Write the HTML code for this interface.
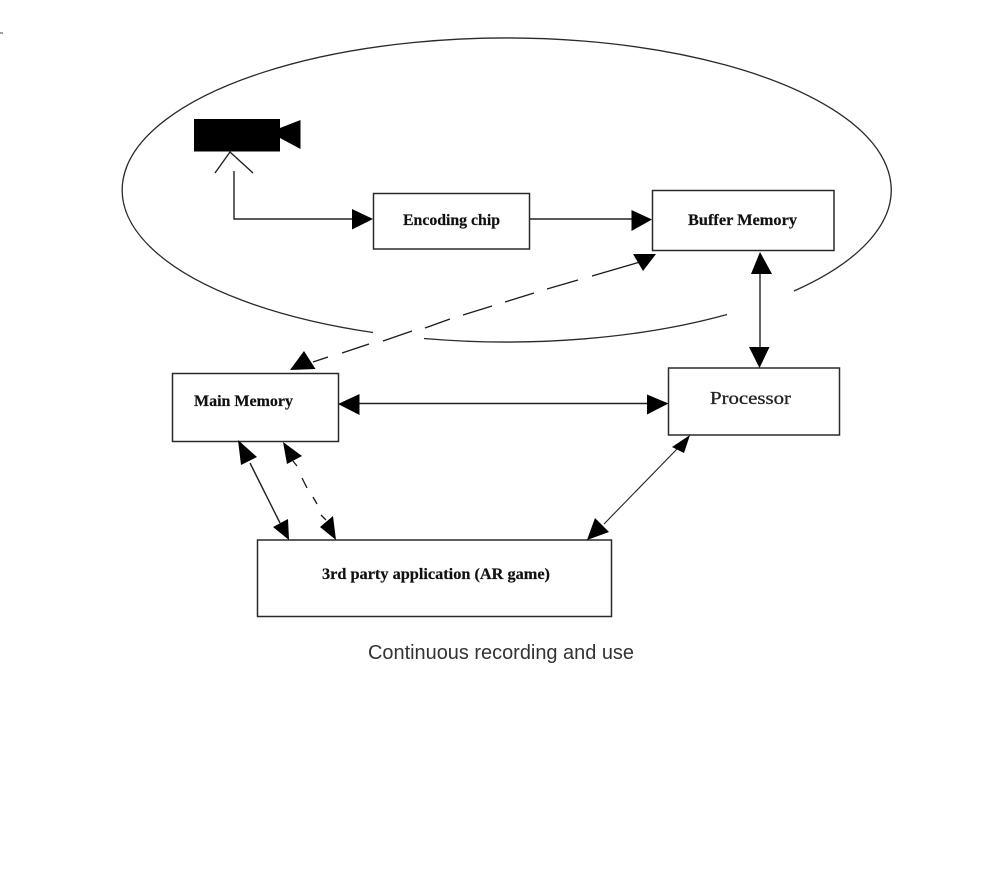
<!DOCTYPE html>
<html>
<head>
<meta charset="utf-8">
<style>
html,body{margin:0;padding:0;background:#fff;width:1000px;height:889px;overflow:hidden}
svg{display:block}
.l{fill:none;stroke:#222;stroke-width:1.4}
.e{fill:none;stroke:#2a2a2a;stroke-width:1.3}
.b{fill:#fff;stroke:#2a2a2a;stroke-width:1.5}
.d{stroke:#1a1a1a;stroke-width:1.3;fill:none}
.t{font-family:"Liberation Serif",serif;font-weight:bold;font-size:15.5px;fill:#111;stroke:#111;stroke-width:.2}
</style>
</head>
<body>
<svg width="1000" height="889" viewBox="0 0 1000 889" xmlns="http://www.w3.org/2000/svg">
<rect width="1000" height="889" fill="#fff"/>
<line x1="0" y1="33" x2="3" y2="33" stroke="#444" stroke-width="1"/>

<path class="e" d="M794 291A384.5 152 0 1 0 373 332.5"/>
<path class="e" d="M424 338.5A384.5 152 0 0 0 727 314.5"/>

<rect x="194" y="119" width="86" height="32.5" fill="#000"/>
<polygon points="280,128 300.5,120 300.5,149 280,138" fill="#000"/>
<path class="l" d="M215 173L230 152L253 173"/>

<path class="l" d="M234 171V219H356"/>
<path class="l" d="M529 219H634"/>
<path class="l" d="M760 270V350"/>
<path class="l" d="M355 403.5H650"/>
<path class="l" d="M250 463L280 523"/>
<path class="l" d="M604 524L678 448" style="stroke-width:1.1"/>

<g class="d">
<line x1="313" y1="362" x2="328" y2="357"/>
<line x1="342" y1="353" x2="369" y2="344"/>
<line x1="383" y1="341" x2="412" y2="331"/>
<line x1="425" y1="328" x2="450" y2="319"/>
<line x1="463" y1="315" x2="492" y2="306"/>
<line x1="505" y1="302" x2="534" y2="293"/>
<line x1="547" y1="289" x2="578" y2="280"/>
<line x1="592" y1="276" x2="640" y2="262"/>
<line x1="293" y1="461" x2="297" y2="466"/>
<line x1="302" y1="478" x2="307" y2="488"/>
<line x1="313" y1="497" x2="317" y2="504"/>
<line x1="321" y1="515" x2="326" y2="520"/>
</g>

<rect class="b" x="373.5" y="193.5" width="156" height="55.5"/>
<rect class="b" x="652.5" y="190.5" width="181.5" height="60"/>
<rect class="b" x="668.5" y="368" width="171" height="67"/>
<rect class="b" x="172.5" y="373.5" width="166" height="68"/>
<rect class="b" x="257.5" y="540" width="354" height="76.5"/>

<g fill="#000">
<polygon points="352,209 352,229.5 373,219"/>
<polygon points="631.5,210 631.5,231 652,219.5"/>
<polygon points="633,254 656,254 643,271"/>
<polygon points="304,351 290,370 315.5,369"/>
<polygon points="760,252 751,274 772,274"/>
<polygon points="749,347 769.5,347 759.5,368"/>
<polygon points="338,404 359.5,394 359.5,415"/>
<polygon points="647,394.5 647,414.5 668.5,403.5"/>
<polygon points="238,440 241,465 257,457"/>
<polygon points="273,527 288,519 289,540"/>
<polygon points="283,442 287,464 302,456"/>
<polygon points="320,527 333,516 336,540"/>
<polygon points="587,540 595,518 609,532"/>
<polygon points="690,435 672,447 684,453"/>
</g>

<text class="t" x="403" y="225" textLength="97" lengthAdjust="spacingAndGlyphs">Encoding chip</text>
<text class="t" x="688" y="225" textLength="109" lengthAdjust="spacingAndGlyphs">Buffer Memory</text>
<text class="t" x="194" y="406" textLength="99" lengthAdjust="spacingAndGlyphs">Main Memory</text>
<text class="t" x="322" y="579" textLength="228" lengthAdjust="spacingAndGlyphs">3rd party application (AR game)</text>
<text x="710" y="404" textLength="81" lengthAdjust="spacingAndGlyphs" style="font-family:'Liberation Serif',serif;font-size:18px;fill:#222;stroke:#222;stroke-width:.3">Processor</text>
<text x="368" y="659" textLength="266" lengthAdjust="spacingAndGlyphs" style="font-family:'Liberation Sans',sans-serif;font-size:20px;fill:#333">Continuous recording and use</text>
</svg>
</body>
</html>
